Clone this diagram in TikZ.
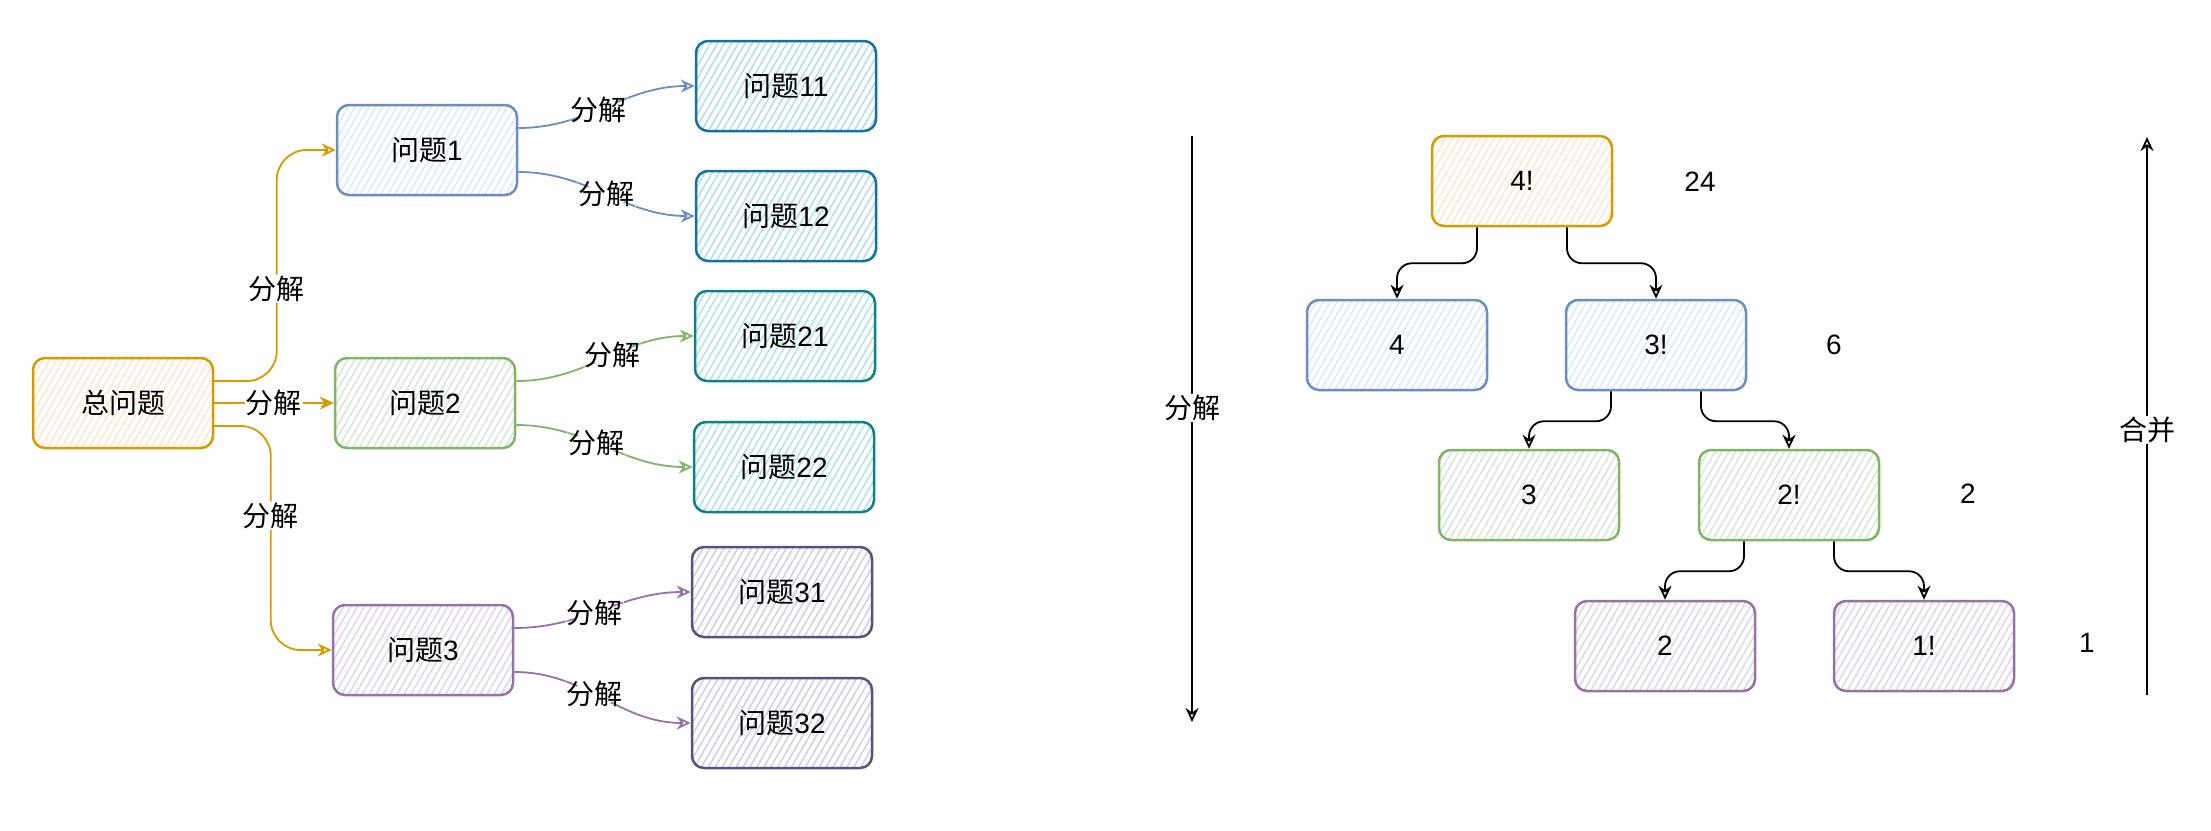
\documentclass[tikz,border=0pt]{standalone}
\usepackage{fontspec}
\setmainfont{Liberation Sans}
\newfontfamily\cjk{Noto Sans CJK SC}
\usetikzlibrary{arrows.meta, patterns.meta}

\definecolor{orfill}{HTML}{FFE6CC}
\definecolor{orline}{HTML}{D79B00}
\definecolor{bfill}{HTML}{DAE8FC}
\definecolor{bline}{HTML}{6C8EBF}
\definecolor{gfill}{HTML}{D5E8D4}
\definecolor{gline}{HTML}{82B366}
\definecolor{pfill}{HTML}{E1D5E7}
\definecolor{pline}{HTML}{9673A6}
\definecolor{cfill}{HTML}{B1DDF0}
\definecolor{cline}{HTML}{10739E}
\definecolor{tfill}{HTML}{B0E3E6}
\definecolor{tline}{HTML}{0E8088}
\definecolor{lfill}{HTML}{D0CEE2}
\definecolor{lline}{HTML}{56517E}

\begin{document}
\begin{tikzpicture}[x=1pt, y=-1pt,
    box/.style={draw, line width=2.5pt, rounded corners=12pt, minimum width=180pt, minimum height=90pt, font=\fontsize{28}{34}\selectfont},
    hatch/.style={pattern={Lines[angle=60, distance=6pt, line width=1.5pt]}, pattern color=#1},
    orbox/.style={box, draw=orline, hatch=orfill},
    bbox/.style={box, draw=bline, hatch=bfill},
    gbox/.style={box, draw=gline, hatch=gfill},
    pbox/.style={box, draw=pline, hatch=pfill},
    cbox/.style={box, draw=cline, hatch=cfill},
    tbox/.style={box, draw=tline, hatch=tfill},
    lbox/.style={box, draw=lline, hatch=lfill},
    lbl/.style={fill=white, text=black, inner sep=1pt, font=\fontsize{28}{34}\selectfont\cjk},
    num/.style={font=\fontsize{28}{34}\selectfont},
    arr/.style={-{Stealth[open, length=14pt, width=13pt]}, line width=1.8pt, rounded corners=30pt},
    tarr/.style={arr, black, rounded corners=15pt},
]
    \useasboundingbox (0,0) rectangle (2211,830);

    % Problem tree
    \node[orbox] (zw) at (123,403) {{\cjk 总问题}};
    \node[bbox] (q1) at (427,150) {{\cjk 问题}1};
    \node[gbox] (q2) at (425,403) {{\cjk 问题}2};
    \node[pbox] (q3) at (423,650) {{\cjk 问题}3};
    \node[cbox] (q11) at (786,86) {{\cjk 问题}11};
    \node[cbox] (q12) at (786,216) {{\cjk 问题}12};
    \node[tbox] (q21) at (785,336) {{\cjk 问题}21};
    \node[tbox] (q22) at (784,467) {{\cjk 问题}22};
    \node[lbox] (q31) at (782,592) {{\cjk 问题}31};
    \node[lbox] (q32) at (782,723) {{\cjk 问题}32};

    % First split
    \draw[arr, orline] ([yshift=22pt]zw.east) -- ++(63,0) |- node[lbl, pos=0.2] {分解} (q1.west);
    \draw[arr, orline, line width=2.6pt] (zw.east) -- node[lbl] {分解} (q2.west);
    \draw[arr, orline] ([yshift=-23pt]zw.east) -- ++(57,0) |- node[lbl, pos=0.2] {分解} (q3.west);

    % Second split
    \draw[arr, bline] ([yshift=22pt]q1.east) to[out=0, in=180] node[lbl, pos=0.45] {分解} (q11.west);
    \draw[arr, bline] ([yshift=-22pt]q1.east) to[out=0, in=180] node[lbl] {分解} (q12.west);
    \draw[arr, gline] ([yshift=22pt]q2.east) to[out=0, in=180] node[lbl, pos=0.55] {分解} (q21.west);
    \draw[arr, gline] ([yshift=-22pt]q2.east) to[out=0, in=180] node[lbl, pos=0.45] {分解} (q22.west);
    \draw[arr, pline] ([yshift=22pt]q3.east) to[out=0, in=180] node[lbl, pos=0.45] {分解} (q31.west);
    \draw[arr, pline] ([yshift=-22pt]q3.east) to[out=0, in=180] node[lbl, pos=0.45] {分解} (q32.west);

    % Factorial tree
    \node[orbox] (n4f) at (1522,181) {4!};
    \node[bbox] (n4) at (1397,345) {4};
    \node[bbox] (n3f) at (1656,345) {3!};
    \node[gbox] (n3) at (1529,495) {3};
    \node[gbox] (n2f) at (1789,495) {2!};
    \node[pbox] (n2) at (1665,646) {2};
    \node[pbox] (n1f) at (1924,646) {1!};

    \draw[tarr] ([xshift=-45pt]n4f.south) -- ++(0,36) -| (n4.north);
    \draw[tarr] ([xshift=45pt]n4f.south) -- ++(0,36) -| (n3f.north);
    \draw[tarr] ([xshift=-45pt]n3f.south) -- ++(0,30) -| (n3.north);
    \draw[tarr] ([xshift=45pt]n3f.south) -- ++(0,30) -| (n2f.north);
    \draw[tarr] ([xshift=-45pt]n2f.south) -- ++(0,30) -| (n2.north);
    \draw[tarr] ([xshift=45pt]n2f.south) -- ++(0,30) -| (n1f.north);

    % Results
    \node[num] (r24) at (1700,182) {24};
    \node[num] (r6) at (1834,345) {6};
    \node[num] (r2) at (1968,494) {2};
    \node[num] (r1) at (2087,643) {1};

    % Down and up
    \coordinate (dtop) at (1192,136);
    \coordinate (dbot) at (1192,722);
    \draw[arr, black] (dtop) -- node[lbl, pos=0.464] {分解} (dbot);
    \coordinate (mbot) at (2147,695);
    \coordinate (mtop) at (2147,137);
    \draw[arr, black] (mbot) -- node[lbl, pos=0.475] {合并} (mtop);
\end{tikzpicture}
\end{document}
